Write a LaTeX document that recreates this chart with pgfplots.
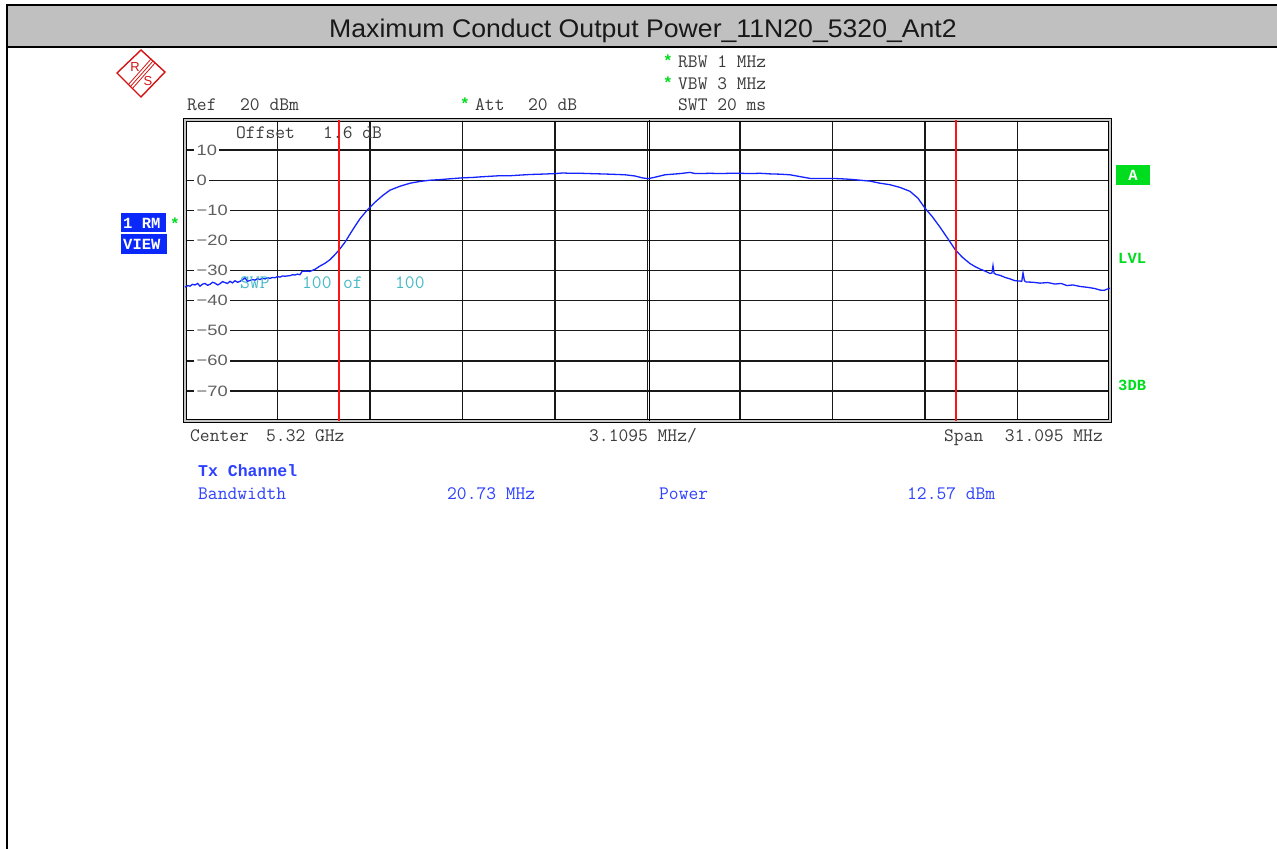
\documentclass[border=0pt]{standalone}
\usepackage{fontspec}
\setmainfont{Liberation Sans}
\newfontfamily\monob{Liberation Mono}
\usepackage{pgfplots}
\pgfplotsset{compat=1.18}
\definecolor{trace}{RGB}{20,35,255}
\definecolor{rsred}{RGB}{255,20,20}
\definecolor{logored}{RGB}{210,20,20}
\definecolor{cyantext}{RGB}{70,185,200}
\definecolor{bluetext}{RGB}{45,65,255}
\definecolor{boxblue}{RGB}{10,40,250}
\definecolor{rsgreen}{RGB}{0,220,30}
\definecolor{titlegray}{RGB}{192,192,192}
\definecolor{textgray}{RGB}{60,60,60}
\definecolor{tickgray}{RGB}{95,95,95}

\pgfplotstableread{
f P
-15.547 -35.5
-15.45 -35.0
-15.379 -35.2
-15.30 -34.6
-15.211 -34.8
-15.12 -34.3
-15.043 -35.2
-14.95 -34.5
-14.875 -34.3
-14.79 -34.9
-14.707 -34.6
-14.62 -33.9
-14.539 -34.2
-14.45 -34.8
-14.371 -34.4
-14.29 -33.7
-14.203 -34.0
-14.12 -34.3
-14.035 -33.6
-13.95 -34.1
-13.867 -33.4
-13.78 -33.9
-13.699 -33.6
-13.61 -33.1
-13.530 -32.4
-13.45 -33.6
-13.362 -33.3
-13.28 -33.0
-13.194 -33.2
-13.11 -32.7
-13.026 -33.0
-12.94 -32.6
-12.858 -32.8
-12.77 -32.4
-12.690 -32.6
-12.60 -32.3
-12.522 -32.4
-12.44 -32.0
-12.354 -32.2
-12.27 -31.8
-12.186 -31.9
-12.10 -31.8
-12.018 -31.7
-11.93 -31.4
-11.850 -31.5
-11.77 -31.2
-11.682 -31.4
-11.614 -30.3
-11.50 -30.2
-11.345 -30.3
-11.177 -29.6
-11.009 -28.5
-10.841 -27.6
-10.673 -26.4
-10.505 -24.7
-10.371 -23.2
-10.169 -20.6
-10.001 -17.9
-9.833 -15.3
-9.665 -12.8
-9.429 -10.0
-9.160 -7.3
-8.891 -5.0
-8.656 -3.3
-8.320 -2.0
-7.984 -1.0
-7.648 -0.4
-7.311 0.0
-6.975 0.2
-6.600 0.5
-6.202 0.8
-5.900 0.9
-5.631 1.1
-5.300 1.3
-4.958 1.5
-4.600 1.5
-4.286 1.7
-3.950 1.9
-3.614 2.0
-3.350 2.1
-3.110 2.2
-2.850 2.4
-2.605 2.3
-2.250 2.3
-1.933 2.2
-1.600 2.1
-1.261 2.0
-0.756 1.8
-0.420 1.4
-0.185 0.8
0.017 0.5
0.252 1.0
0.588 1.8
1.093 2.2
1.429 2.6
1.600 2.2
1.765 2.2
2.100 2.3
2.437 2.2
2.770 2.3
3.110 2.3
3.450 2.2
3.782 2.3
4.120 2.1
4.454 2.0
4.790 1.8
5.126 1.2
5.463 0.6
5.800 0.6
6.135 0.6
6.470 0.5
6.807 0.3
7.150 0.0
7.480 -0.3
7.816 -1.0
8.152 -1.5
8.488 -2.4
8.824 -3.7
9.093 -6.0
9.328 -9.3
9.564 -12.0
9.833 -15.6
10.101 -19.5
10.337 -23.0
10.573 -25.5
10.841 -27.7
11.010 -28.7
11.177 -29.5
11.35 -30.2
11.514 -31.0
11.58 -30.8
11.614 -28.4
11.65 -30.9
11.715 -31.3
11.85 -31.6
12.018 -32.3
12.19 -32.8
12.354 -33.4
12.522 -33.5
12.58 -33.6
12.623 -30.8
12.67 -33.4
12.724 -33.8
12.95 -33.9
13.194 -34.2
13.45 -34.0
13.699 -34.5
13.90 -34.3
14.102 -35.0
14.30 -34.8
14.539 -35.3
14.80 -35.6
15.043 -36.0
15.211 -36.5
15.35 -36.6
15.446 -36.2
15.547 -35.9
}\tracedata

\begin{document}
\begin{tikzpicture}
\begin{scope}[x=1bp,y=-1bp]
\useasboundingbox (0,0) rectangle (1277,849);
\fill[white] (0,0) rectangle (1277,849);
% title bar
\fill[titlegray] (7,5) rectangle (1277,47);
\draw[black, line width=2bp] (1277,5) -- (7,5) -- (7,849);
\draw[black, line width=2bp] (7,47) -- (1277,47);
\node[anchor=base, inner sep=0, xscale=1.045, font=\fontsize{25.5bp}{28bp}\selectfont, text=black!90] at (643,37) {Maximum Conduct Output Power\_11N20\_5320\_Ant2};
% logo
\draw[logored, line width=1.4bp] (141,50) -- (165,72) -- (141,97) -- (117,73) -- cycle;
\draw[logored, line width=0.8bp] (155,63) -- (132,89);
\draw[logored, line width=0.8bp] (153,61) -- (130,87);
\draw[logored, line width=0.8bp] (151,59) -- (128,85);
\node[logored, font=\fontsize{13bp}{13bp}\selectfont, inner sep=0] at (135,67) {R};
\node[logored, font=\fontsize{13bp}{13bp}\selectfont, inner sep=0] at (148,81) {S};
\end{scope}

\begin{axis}[
  at={(185bp,-421bp)}, anchor=south west,
  scale only axis, width=925bp, height=301bp,
  xmin=-15.5475, xmax=15.5475, ymin=-80, ymax=20,
  xtick={-12.438,-9.3285,-6.219,-3.1095,0,3.1095,6.219,9.3285,12.438},
  xticklabels={},
  ytick={-70,-60,-50,-40,-30,-20,-10,0,10},
  yticklabels={−70,−60,−50,−40,−30,−20,−10,0,10},
  grid=major,
  major grid style={black!90, line width=1.4bp},
  major tick length=0pt,
  axis line style={black, line width=1bp, double=gray!45, double distance=1.2bp},
  yticklabel style={anchor=west, xshift=9bp, fill=white, inner xsep=2bp, inner ysep=0.5bp, xscale=1.22,
    font=\fontsize{15bp}{15bp}\selectfont, text=tickgray},
  clip=false,
]
\draw[black, line width=1bp] (axis cs:0.06,-80) -- (axis cs:0.06,20);
\addplot[trace, line width=1.3bp, no marks] table[x=f, y=P] {\tracedata};
\addplot[rsred, line width=1.6bp, no marks] coordinates {(-10.365,-80) (-10.365,20)};
\addplot[rsred, line width=1.6bp, no marks] coordinates {(10.365,-80) (10.365,20)};
\end{axis}

\begin{scope}[x=1bp,y=-1bp, lab/.style={anchor=base west, inner sep=0, font=\ttfamily\fontsize{19bp}{20bp}\selectfont, text=textgray},
  bl/.style={anchor=base west, inner sep=0, font=\monob\bfseries\fontsize{15.5bp}{16bp}\selectfont},
  star/.style={anchor=base west, inner sep=0, font=\monob\bfseries\fontsize{16bp}{18bp}\selectfont, text=rsgreen}]
\node[star] at (663,66) {*};
\node[lab] at (678,67) {RBW 1 MHz};
\node[star] at (663,88) {*};
\node[lab] at (678,89) {VBW 3 MHz};
\node[lab] at (678,110) {SWT 20 ms};
\node[star] at (460,109) {*};
\node[lab] at (475,110) {Att};
\node[lab] at (528,110) {20 dB};
\node[lab] at (187,110) {Ref};
\node[lab] at (240,110) {20 dBm};
\node[lab] at (236,138) {Offset};
\node[lab] at (323,138) {1.6 dB};
% left boxes
\fill[boxblue] (121,213) rectangle (166,232);
\fill[boxblue] (121,234) rectangle (167,254);
\node[bl, text=white] at (123,228) {1 RM};
\node[bl, text=white] at (123,249) {VIEW};
\node[star] at (170,229) {*};
% right labels
\fill[rsgreen] (1116,165) rectangle (1150,185);
\node[bl, anchor=base, text=white] at (1133,180) {A};
\node[bl, text=rsgreen] at (1118,263) {LVL};
\node[bl, text=rsgreen] at (1118,390) {3DB};
% SWP
\node[lab, text=cyantext] at (240,288) {SWP};
\node[lab, text=cyantext] at (302,288) {100};
\node[lab, text=cyantext] at (343,288) {of};
\node[lab, text=cyantext] at (395,288) {100};
% bottom
\node[lab] at (190,441) {Center};
\node[lab] at (266,441) {5.32 GHz};
\node[lab] at (589,441) {3.1095 MHz/};
\node[lab] at (944,441) {Span};
\node[lab, anchor=base east] at (1103,441) {31.095 MHz};
\node[bl, text=bluetext, font=\monob\bfseries\fontsize{16.5bp}{18bp}\selectfont] at (198,476) {Tx Channel};
\node[lab, text=bluetext] at (198,499) {Bandwidth};
\node[lab, text=bluetext] at (447,499) {20.73 MHz};
\node[lab, text=bluetext] at (659,499) {Power};
\node[lab, text=bluetext] at (907,499) {12.57 dBm};
\end{scope}
\end{tikzpicture}
\end{document}
